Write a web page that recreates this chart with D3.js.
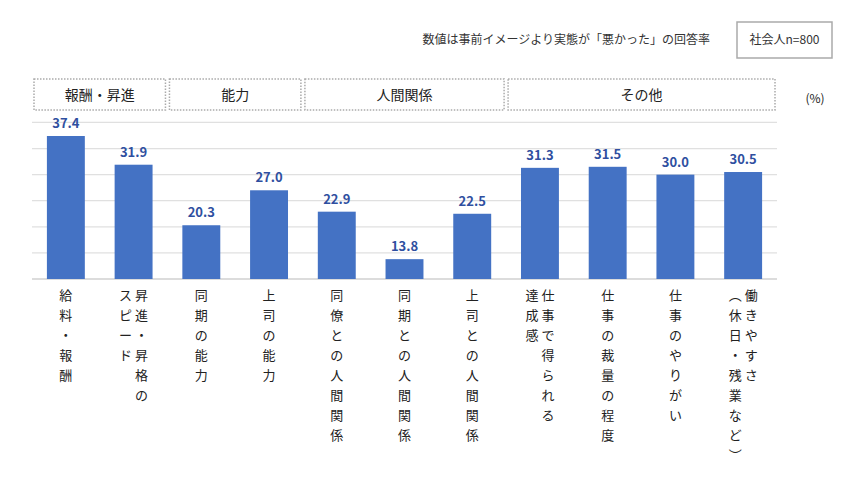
<!DOCTYPE html><html><head><meta charset="utf-8"><script src="https://cdn.jsdelivr.net/npm/d3@7"></script>
<style>body{margin:0;background:#fff}text{font-family:"Noto Sans CJK JP",sans-serif}</style></head><body><svg id="c" width="846" height="480"></svg><script>
const categories=["給料・報酬","昇進・昇格のスピード","同期の能力","上司の能力","同僚との人間関係","同期との人間関係","上司との人間関係","仕事で得られる達成感","仕事の裁量の程度","仕事のやりがい","働きやすさ（休日・残業など）"];
const labelColumns=[["給料・報酬"],["昇進・昇格の","スピード"],["同期の能力"],["上司の能力"],["同僚との人間関係"],["同期との人間関係"],["上司との人間関係"],["仕事で得られる","達成感"],["仕事の裁量の程度"],["仕事のやりがい"],["働きやすさ","︵休日・残業など︶"]];
const values=[37.4,31.9,20.3,27.0,22.9,13.8,22.5,31.3,31.5,30.0,30.5];
const yTicks=[10,15,20,25,30,35,40];
const groups=[{name:"報酬・昇進",from:0,to:1},{name:"能力",from:2,to:3},{name:"人間関係",from:4,to:6},{name:"その他",from:7,to:10}];
const svg=d3.select("#c");
const x=d3.scaleBand().domain(categories).range([32,777]).paddingInner(0.44).paddingOuter(0.22);
const y=d3.scaleLinear().domain([10,42]).range([279,112]);
svg.append("g").selectAll("line").data(yTicks).join("line").attr("x1",32).attr("x2",777).attr("y1",d=>y(d)).attr("y2",d=>y(d)).attr("stroke",d=>d===10?"#d0d0d0":"#e0e0e0").attr("stroke-width",1.3);
svg.append("g").selectAll("rect").data(values).join("rect").attr("x",(d,i)=>x(categories[i])).attr("width",x.bandwidth()).attr("y",d=>y(d)).attr("height",d=>y(10)-y(d)).attr("fill","#4472C4");
svg.append("g").selectAll("text").data(values).join("text").attr("x",(d,i)=>x(categories[i])+x.bandwidth()/2).attr("y",d=>y(d)-8).attr("text-anchor","middle").attr("font-size",13).attr("font-weight","bold").attr("fill","#2F4FA0").attr("font-family","Roboto").text(d=>d.toFixed(1));
labelColumns.forEach((cols,i)=>{const cx=x(categories[i])+x.bandwidth()/2;const n=cols.length;
 cols.forEach((col,j)=>{const colX=cx+(n===1?0:(j===0?8:-8));
  Array.from(col).forEach((ch,k)=>{svg.append("text").attr("x",colX).attr("y",300+k*20).attr("text-anchor","middle").attr("font-size",13).attr("fill","#222").text(ch);});});});
groups.forEach(g=>{const x0=x(categories[g.from])-x.step()*0.22+2,x1=x(categories[g.to])+x.bandwidth()+x.step()*0.22-2;
 svg.append("rect").attr("x",x0).attr("y",79).attr("width",x1-x0).attr("height",31).attr("fill","none").attr("stroke","#aaa").attr("stroke-width",1.5).attr("stroke-dasharray","1.5,1.5");
 svg.append("text").attr("x",(x0+x1)/2).attr("y",100).attr("text-anchor","middle").attr("font-size",14).attr("fill","#222").text(g.name);});
svg.append("text").attr("x",815).attr("y",103).attr("text-anchor","middle").attr("font-size",12).attr("fill","#222").text("(%)");
svg.append("text").attr("x",710).attr("y",44).attr("text-anchor","end").attr("font-size",12).attr("fill","#333").text("数値は事前イメージより実態が「悪かった」の回答率");
svg.append("rect").attr("x",737).attr("y",22).attr("width",95).attr("height",36).attr("fill","none").attr("stroke","#aaa").attr("stroke-width",1.5);
svg.append("text").attr("x",784.5).attr("y",44).attr("text-anchor","middle").attr("font-size",12).attr("fill","#333").text("社会人n=800");
</script></body></html>
